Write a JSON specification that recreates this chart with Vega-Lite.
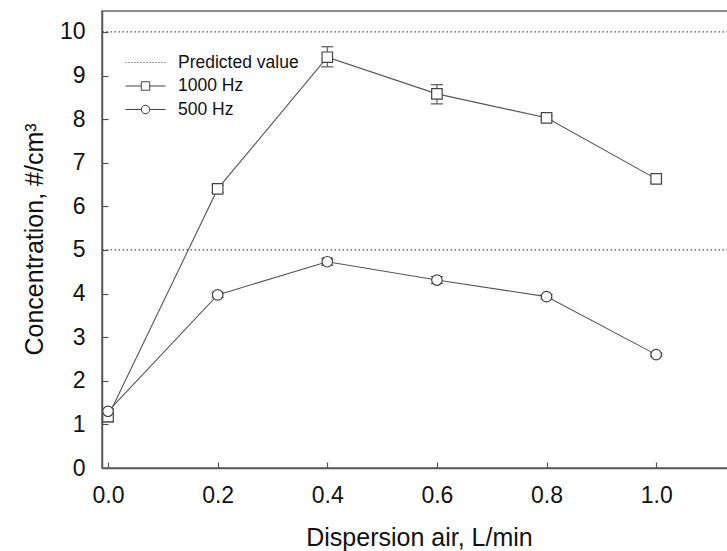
{
  "$schema": "https://vega.github.io/schema/vega-lite/v6.json",
  "width": 626,
  "height": 457,
  "autosize": {"type": "none"},
  "padding": {"left": 102, "top": 11, "right": 0, "bottom": 83},
  "background": "white",
  "config": {
    "view": {"stroke": "#666", "strokeWidth": 1.5},
    "font": "Liberation Sans",
    "axis": {
      "grid": false,
      "domainColor": "#555",
      "domainWidth": 1.5,
      "tickColor": "#555",
      "tickWidth": 1.2,
      "tickSize": -6,
      "labelFontSize": 23,
      "labelColor": "#111",
      "titleFontSize": 25,
      "titleFontWeight": "normal",
      "titleColor": "#111"
    },
    "axisX": {
      "labelPadding": 22,
      "titleAlign": "center",
      "titleBaseline": "alphabetic",
      "titleX": 317,
      "titleY": 77
    },
    "axisY": {
      "labelPadding": 23,
      "titleAngle": -90,
      "titleAlign": "center",
      "titleBaseline": "alphabetic",
      "titleX": -60,
      "titleY": 228
    }
  },
  "datasets": {
    "meas": [
      {"x": 0.0, "y": 1.18, "lo": 1.06, "hi": 1.30, "series": "1000 Hz"},
      {"x": 0.2, "y": 6.40, "lo": 6.32, "hi": 6.48, "series": "1000 Hz"},
      {"x": 0.4, "y": 9.42, "lo": 9.20, "hi": 9.66, "series": "1000 Hz"},
      {"x": 0.6, "y": 8.58, "lo": 8.35, "hi": 8.79, "series": "1000 Hz"},
      {"x": 0.8, "y": 8.03, "lo": 7.98, "hi": 8.08, "series": "1000 Hz"},
      {"x": 1.0, "y": 6.63, "lo": 6.55, "hi": 6.71, "series": "1000 Hz"},
      {"x": 0.0, "y": 1.30, "lo": 1.24, "hi": 1.36, "series": "500 Hz"},
      {"x": 0.2, "y": 3.97, "lo": 3.91, "hi": 4.03, "series": "500 Hz"},
      {"x": 0.4, "y": 4.73, "lo": 4.65, "hi": 4.81, "series": "500 Hz"},
      {"x": 0.6, "y": 4.31, "lo": 4.23, "hi": 4.39, "series": "500 Hz"},
      {"x": 0.8, "y": 3.93, "lo": 3.88, "hi": 3.98, "series": "500 Hz"},
      {"x": 1.0, "y": 2.60, "lo": 2.56, "hi": 2.64, "series": "500 Hz"}
    ],
    "pred": [
      {"y": 10, "label": "Predicted value"},
      {"y": 5, "label": "Predicted value"}
    ]
  },
  "layer": [
    {
      "data": {"name": "pred"},
      "mark": {"type": "rule", "stroke": "#555", "strokeWidth": 1.2, "strokeDash": [1.5, 2.5]},
      "encoding": {
        "y": {
          "field": "y", "type": "quantitative",
          "title": "Concentration, #/cm³",
          "scale": {"domain": [0, 10.48], "nice": false, "zero": false},
          "axis": {"values": [0, 1, 2, 3, 4, 5, 6, 7, 8, 9, 10]}
        }
      }
    },
    {
      "data": {"name": "meas"},
      "mark": {"type": "line", "stroke": "#555", "strokeWidth": 1.1},
      "encoding": {
        "x": {
          "field": "x", "type": "quantitative",
          "title": "Dispersion air, L/min",
          "scale": {"domain": [-0.011, 1.131], "nice": false, "zero": false},
          "axis": {"values": [0, 0.2, 0.4, 0.6, 0.8, 1.0], "format": ".1f"}
        },
        "y": {"field": "y", "type": "quantitative", "title": "Concentration, #/cm³"},
        "detail": {"field": "series"}
      }
    },
    {
      "data": {"name": "meas"},
      "mark": {"type": "rule", "stroke": "#555", "strokeWidth": 1.1},
      "encoding": {
        "x": {"field": "x", "type": "quantitative", "title": "Dispersion air, L/min"},
        "y": {"field": "lo", "type": "quantitative", "title": "Concentration, #/cm³"},
        "y2": {"field": "hi"}
      }
    },
    {
      "data": {"name": "meas"},
      "mark": {"type": "tick", "orient": "horizontal", "color": "#555", "size": 12, "thickness": 1.2, "opacity": 1},
      "encoding": {
        "x": {"field": "x", "type": "quantitative", "title": "Dispersion air, L/min"},
        "y": {"field": "lo", "type": "quantitative", "title": "Concentration, #/cm³"}
      }
    },
    {
      "data": {"name": "meas"},
      "mark": {"type": "tick", "orient": "horizontal", "color": "#555", "size": 12, "thickness": 1.2, "opacity": 1},
      "encoding": {
        "x": {"field": "x", "type": "quantitative", "title": "Dispersion air, L/min"},
        "y": {"field": "hi", "type": "quantitative", "title": "Concentration, #/cm³"}
      }
    },
    {
      "data": {"name": "meas"},
      "transform": [{"filter": "datum.series === '1000 Hz'"}],
      "mark": {"type": "point", "shape": "square", "size": 110, "filled": true, "fill": "white", "stroke": "#444", "strokeWidth": 1.2, "opacity": 1},
      "encoding": {
        "x": {"field": "x", "type": "quantitative", "title": "Dispersion air, L/min"},
        "y": {"field": "y", "type": "quantitative", "title": "Concentration, #/cm³"}
      }
    },
    {
      "data": {"name": "meas"},
      "transform": [{"filter": "datum.series === '500 Hz'"}],
      "mark": {"type": "point", "shape": "circle", "size": 110, "filled": true, "fill": "white", "stroke": "#444", "strokeWidth": 1.2, "opacity": 1},
      "encoding": {
        "x": {"field": "x", "type": "quantitative", "title": "Dispersion air, L/min"},
        "y": {"field": "y", "type": "quantitative", "title": "Concentration, #/cm³"}
      }
    },
    {
      "data": {"name": "meas"},
      "transform": [{"filter": "false"}],
      "mark": {"type": "point", "size": 400, "filled": false, "stroke": "#444", "strokeWidth": 1, "opacity": 1},
      "encoding": {
        "x": {"field": "x", "type": "quantitative", "title": "Dispersion air, L/min"},
        "y": {"field": "y", "type": "quantitative", "title": "Concentration, #/cm³"},
        "shape": {
          "field": "series", "type": "nominal",
          "scale": {
            "domain": ["Predicted value", "1000 Hz", "500 Hz"],
            "range": [
              "M-2,0h0.1M-1.7,0h0.1M-1.4,0h0.1M-1.1,0h0.1M-0.8,0h0.1M-0.5,0h0.1M-0.2,0h0.1M0.1,0h0.1M0.4,0h0.1M0.7,0h0.1M1,0h0.1M1.3,0h0.1M1.6,0h0.1M1.9,0h0.1",
              "M-2,0H-0.42M0.42,0H2M-0.42,-0.42H0.42V0.42H-0.42Z",
              "M-2,0H-0.42M0.42,0H2M-0.42,0A0.42,0.42,0,1,0,0.42,0A0.42,0.42,0,1,0,-0.42,0Z"
            ]
          },
          "legend": {
            "title": null,
            "orient": "none",
            "legendX": 33,
            "legendY": 41,
            "padding": 0,
            "symbolSize": 400,
            "symbolStrokeWidth": 1,
            "symbolStrokeColor": "#444",
            "symbolFillColor": "white",
            "symbolOpacity": 1,
            "labelFontSize": 17.5,
            "labelColor": "#111",
            "labelOffset": 22,
            "rowPadding": 4.5
          }
        }
      }
    }
  ]
}
